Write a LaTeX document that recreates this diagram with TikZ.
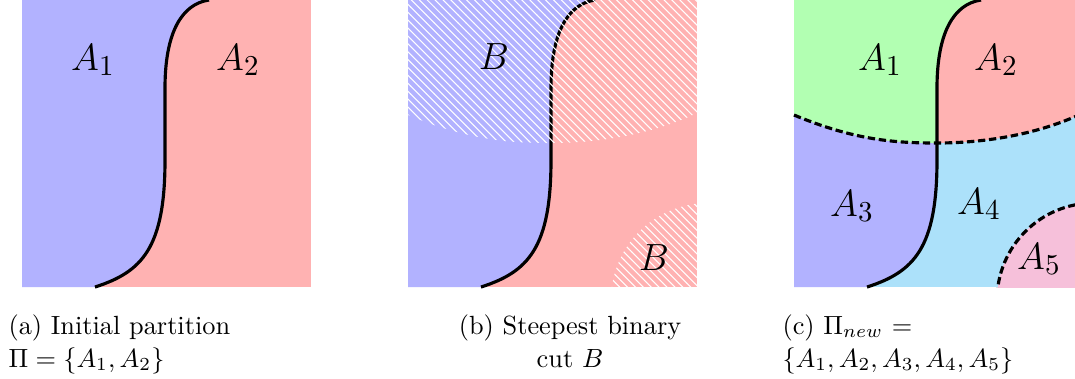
\documentclass[tikz,border=0pt]{standalone}
\usepackage{amsmath,amssymb}
\usepackage{tikz}
\usetikzlibrary{patterns}
\definecolor{SkyPart}{RGB}{172,225,250}
\definecolor{PinkPart}{RGB}{246,192,218}
\tikzset{
    cutline/.style={line width=1.2pt},
    splitline/.style={line width=1.2pt,dash pattern=on 2.8pt off 1.4pt},
    hatch/.style={pattern=north west lines,pattern color=white},
    regionlbl/.style={font=\fontsize{15}{18}\selectfont,inner sep=0pt},
    subcap/.style={font=\normalsize,inner sep=0pt},
    cutrest/.style={insert path={.. controls (160,4) and (143,32) .. (143,88) -- (143,160) .. controls (143,248) and (120,272) .. (73,287)}},
    splitrest/.style={insert path={.. controls (60,140) and (100,143) .. (143,143) .. controls (192,143) and (245,134) .. (289,113)}}
}

\begin{document}
\begin{tikzpicture}[x=0.38pt,y=-0.38pt]
\useasboundingbox (0,0) rectangle (1075,378);

				% (a) initial partition
				\begin{scope}[shift={(22,0)}]
				\fill[red!30] (0,0) rectangle (289,287);
				\fill[blue!30] (0,0) -- (187,0) [cutrest] -- (0,287) -- cycle;
				\draw[cutline] (187,0) [cutrest];
				\node[regionlbl] (a1) at (71,60) {$A_1$};
				\node[regionlbl] (a2) at (216,60) {$A_2$};
				\end{scope}
				
				% (b) steepest binary cut
				\begin{scope}[shift={(408,0)}]
				\fill[red!30] (0,0) rectangle (289,287);
				\fill[blue!30] (0,0) -- (187,0) [cutrest] -- (0,287) -- cycle;
				\draw[cutline] (187,0) [cutrest];
				\fill[hatch] (0,115) [splitrest] -- (289,0) -- (0,0) -- cycle;
				\begin{scope}
				\clip (0,0) rectangle (289,287);
				\fill[hatch] (300,300) circle (97);
				\end{scope}
				\node[regionlbl] (b1) at (86,57) {$B$};
				\node[regionlbl] (b2) at (246,258) {$B$};
				\end{scope}
				
				% (c) new partition
				\begin{scope}[shift={(794,0)}]
				\fill[SkyPart] (0,0) rectangle (289,287);
				\fill[blue!30] (0,0) -- (187,0) [cutrest] -- (0,287) -- cycle;
				\fill[red!30] (0,115) [splitrest] -- (289,0) -- (0,0) -- cycle;
				\begin{scope}
				\clip (0,0) -- (187,0) [cutrest] -- (0,287) -- cycle;
				\fill[green!30] (0,115) [splitrest] -- (289,0) -- (0,0) -- cycle;
				\end{scope}
				\begin{scope}
				\clip (0,0) rectangle (289,287);
				\fill[PinkPart] (300,300) circle (97);
				\draw[splitline] (300,300) circle (97);
				\end{scope}
				\draw[cutline] (187,0) [cutrest];
				\draw[splitline] (0,115) [splitrest];
				\node[regionlbl] (c1) at (86,60) {$A_1$};
				\node[regionlbl] (c2) at (202,60) {$A_2$};
				\node[regionlbl] (c3) at (58,206) {$A_3$};
				\node[regionlbl] (c4) at (185,204) {$A_4$};
				\node[regionlbl] (c5) at (245,259) {$A_5$};
				\end{scope}
				
				% captions
				\node[subcap,anchor=base west] (capa) at (8,334) {(a) Initial partition};
				\node[subcap,anchor=base west] (capa2) at (8,367) {$\Pi=\{A_1,A_2\}$};
				\node[subcap,anchor=base] (capb) at (570,334) {(b) Steepest binary};
				\node[subcap,anchor=base] (capb2) at (570,367) {cut $B$};
				\node[subcap,anchor=base west] (capc) at (782,334) {(c) $\Pi_{new}$ =};
				\node[subcap,anchor=base west] (capc2) at (782,367) {$\{A_1,A_2,A_3,A_4,A_5\}$};
\end{tikzpicture}
\end{document}
